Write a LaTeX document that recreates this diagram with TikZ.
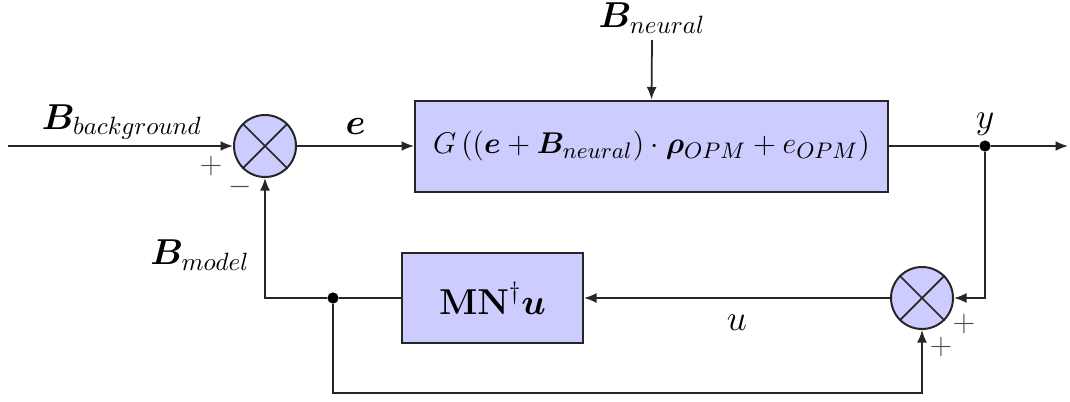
\documentclass[tikz,border=0pt]{standalone}
\usepackage{amsmath}
\usepackage{bm}
\usetikzlibrary{arrows.meta,calc}
\begin{document}
\begin{tikzpicture}[x=0.4pt,y=-0.4pt,
  every node/.style={font=\Large},
  block/.style={draw=black!85, line width=0.8pt, fill=blue!20, inner sep=0pt},
  sum/.style={draw=black!85, line width=0.8pt, fill=blue!20, circle, minimum size=24.8pt, inner sep=0pt},
  conn/.style={line width=0.7pt, draw=black!85},
  arr/.style={conn, -{Latex[length=5pt,width=4pt]}},
  dot/.style={circle, fill=black, minimum size=4.5pt, inner sep=0pt},
  sign/.style={font=\large, text=black!70}]
\useasboundingbox (0,0) rectangle (1070,401);
% nodes
\node[sum] (s1) at (265,146) {};
\draw[conn] (s1.north west) -- (s1.south east) (s1.north east) -- (s1.south west);
\node[sum] (s2) at (922,298) {};
\draw[conn] (s2.north west) -- (s2.south east) (s2.north east) -- (s2.south west);
\node[block, minimum width=189.2pt, minimum height=36.4pt, font=\fontsize{13.1}{15}\selectfont] (G) at (651.5,146)
  {$G\left(\left(\bm{e}+\bm{B}_{neural}\right)\cdot\bm{\rho}_{OPM}+e_{OPM}\right)$};
\node[block, minimum width=72.4pt, minimum height=36pt] (MN) at (492.5,298)
  {$\mathbf{MN}^{\dagger}\bm{u}$};
\node[dot] (yd) at (985,146) {};
\node[dot] (d) at (333,298) {};
\coordinate (in) at (8,146);
\coordinate (out) at (1068,146);
\coordinate (bn) at (652,40);
\coordinate (b) at (922,393);
% labels
\node (lbg) at (122,122) {$\bm{B}_{background}$};
\node (lbn) at (652,18) {$\bm{B}_{neural}$};
\node (lbm) at (200,255) {$\bm{B}_{model}$};
\node (ly) at (985,124) {$y$};
\node[sign] (p1) at (211,166) {$+$};
\node[sign] (m1) at (240,187) {$-$};
\node[sign] (p2) at (964,324) {$+$};
\node[sign] (p3) at (941,347) {$+$};
% connectors
\draw[arr] (in) -- (s1.west);
\draw[arr] (s1.east) -- node[above=1pt] (le) {$\bm{e}$} (G.west);
\draw[arr] (bn) -- (G.north);
\draw[conn] (G.east) -- (yd);
\draw[arr] (yd) -- (out);
\draw[arr] (yd) |- (s2.east);
\draw[arr] (s2.west) -- node[below=3pt] (lu) {$u$} (MN.east);
\draw[conn] (MN.west) -- (d);
\draw[arr] (d) -| (s1.south);
\draw[arr] (d) |- (b) -- (s2.south);
\end{tikzpicture}
\end{document}
